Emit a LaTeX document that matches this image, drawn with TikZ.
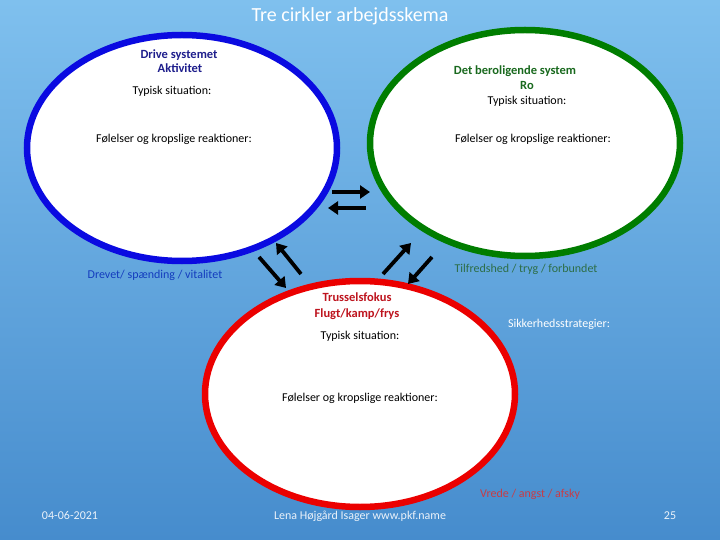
\documentclass[tikz,border=0pt]{standalone}
\usepackage{fontspec}
\setmainfont{Carlito}
\usetikzlibrary{shapes.geometric,arrows.meta}
\definecolor{bgtop}{RGB}{127,192,238}
\definecolor{bgbot}{RGB}{70,140,205}
\definecolor{cblue}{RGB}{10,10,225}
\definecolor{cgreen}{RGB}{0,125,0}
\definecolor{cred}{RGB}{235,0,0}
\definecolor{tnavy}{RGB}{30,30,140}
\definecolor{tgreen}{RGB}{25,105,30}
\definecolor{tred}{RGB}{190,20,30}
\definecolor{tblue}{RGB}{20,60,190}
\definecolor{tgreen2}{RGB}{45,110,70}
\definecolor{tred2}{RGB}{200,60,70}
\definecolor{tfoot}{RGB}{235,242,250}
\tikzset{
  circ/.style={ellipse, line width=6.5pt, fill=white, minimum width=310pt, minimum height=226pt, inner sep=0pt},
  txt/.style={font=\fontsize{12}{14}\selectfont, inner sep=0pt, text height=8.5pt, text depth=2.5pt},
  btxt/.style={font=\fontsize{12.5}{15}\selectfont\bfseries, inner sep=0pt, text height=8.5pt, text depth=2.5pt},
  arr/.style={line width=3.8pt, -{Triangle[length=10pt,width=13pt]}}
}
\begin{document}
\begin{tikzpicture}[x=1pt,y=-1pt]
\useasboundingbox (0,0) rectangle (720,540);
\fill[top color=bgtop, bottom color=bgbot] (0,0) rectangle (720,540);
% title
\node[inner sep=0pt, font=\fontsize{20}{22}\selectfont, text=white, text height=13pt, text depth=4pt] (title) at (350,17) {Tre cirkler arbejdsskema};
% circles
\node[circ, draw=cblue] (drive) at (182,148) {};
\node[circ, draw=cgreen] (ro) at (525,143) {};
\node[circ, draw=cred] (trus) at (360,394) {};
% blue texts
\node[btxt, text=tnavy] (d1) at (179,56) {Drive systemet};
\node[btxt, text=tnavy] (d2) at (180,70) {Aktivitet};
\node[txt] (d3) at (172,92) {Typisk situation:};
\node[txt] (d4) at (174,140) {Følelser og kropslige reaktioner:};
% green texts
\node[btxt, text=tgreen] (g1) at (515,72) {Det beroligende system};
\node[btxt, text=tgreen] (g2) at (527,87) {Ro};
\node[txt] (g3) at (527,102) {Typisk situation:};
\node[txt] (g4) at (533,140) {Følelser og kropslige reaktioner:};
% red texts
\node[btxt, text=tred] (r1) at (357,298) {Trusselsfokus};
\node[btxt, text=tred] (r2) at (357,314) {Flugt/kamp/frys};
\node[txt] (r3) at (360,336) {Typisk situation:};
\node[txt] (r4) at (360,398) {Følelser og kropslige reaktioner:};
% outside labels
\node[txt, text=tblue] (lblue) at (155,275) {Drevet/ spænding / vitalitet};
\node[txt, text=tgreen2] (lgreen) at (526,269) {Tilfredshed / tryg / forbundet};
\node[txt, text=white] (sik) at (559,324) {Sikkerhedsstrategier:};
\node[txt, text=tred2] (lred) at (530,494) {Vrede / angst / afsky};
% footer
\node[txt, text=tfoot] (date) at (70,516) {04-06-2021};
\node[txt, text=tfoot] (auth) at (360,516) {Lena Højgård Isager www.pkf.name};
\node[txt, text=tfoot] (page) at (670,516) {25};
% arrow end points
\coordinate (a1s) at (332,192); \coordinate (a1e) at (370,192);
\coordinate (a2s) at (366,208); \coordinate (a2e) at (328,208);
\coordinate (a3s) at (259,257); \coordinate (a3e) at (286,288);
\coordinate (a4s) at (301,274); \coordinate (a4e) at (276,243);
\coordinate (a5s) at (383,274); \coordinate (a5e) at (411,243);
\coordinate (a6s) at (432,257); \coordinate (a6e) at (408,284);
\draw[arr] (a1s) -- (a1e);
\draw[arr] (a2s) -- (a2e);
\draw[arr] (a3s) -- (a3e);
\draw[arr] (a4s) -- (a4e);
\draw[arr] (a5s) -- (a5e);
\draw[arr] (a6s) -- (a6e);
\end{tikzpicture}
\end{document}
